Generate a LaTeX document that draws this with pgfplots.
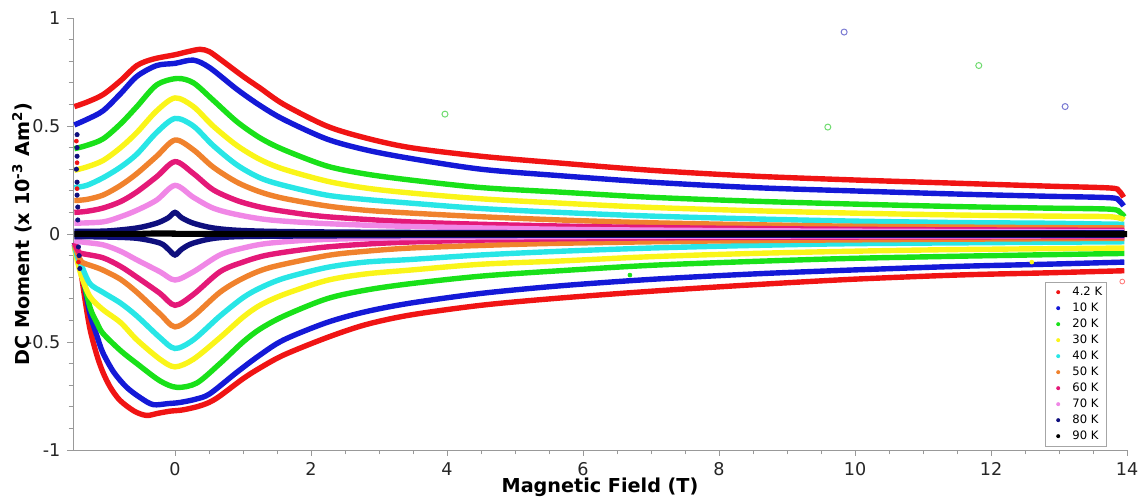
\documentclass[border=0pt]{standalone}
\usepackage{pgfplots}
\pgfplotsset{compat=1.18}
\usepackage{fontspec}
\setmainfont{DejaVu Sans}
\definecolor{cRed}{RGB}{240,20,20}
\definecolor{cBlue}{RGB}{20,25,215}
\definecolor{cGreen}{RGB}{25,225,25}
\definecolor{cYellow}{RGB}{250,245,25}
\definecolor{cCyan}{RGB}{40,230,230}
\definecolor{cOrange}{RGB}{240,130,45}
\definecolor{cMag}{RGB}{228,25,120}
\definecolor{cPink}{RGB}{240,135,230}
\definecolor{cNavy}{RGB}{15,15,125}
\begin{document}
\begin{tikzpicture}
\begin{axis}[
  scale only axis, width=527pt, height=216pt,
  xmin=-1.5, xmax=14, ymin=-1, ymax=1,
  axis lines=left, axis line style={gray!80,-},
  tick align=outside, tick style={gray!80, line width=0.5pt},
  major tick length=2.8pt, minor tick length=2.2pt,
  xtick={0,2,4,6,8,10,12,14}, xticklabels={0,2,4,6,8,10,12,14},
  ytick={-1,-0.5,0,0.5,1}, yticklabels={-1,-0.5,0,0.5,1},
  minor x tick num=3, minor y tick num=4,
  tick label style={font=\fontsize{8.8}{10}\selectfont, text=black!85},
  xlabel={\bfseries Magnetic Field (T)},
  ylabel={\bfseries DC Moment (x 10\textsuperscript{-3} Am\textsuperscript{2})},
  label style={font=\fontsize{9.6}{11}\selectfont},
  xlabel style={at={(axis description cs:0.5,-0.0856)}, anchor=center},
  ylabel style={at={(axis description cs:-0.0484,0.5)}, anchor=center},
  clip=false,
  every axis plot/.append style={line width=2.7pt, smooth},
  legend style={at={(0.922,0.389)}, anchor=north west, draw=gray!70, fill=white,
    font=\fontsize{5.8}{6.5}\selectfont, inner sep=1.5pt, row sep=1.2pt,
    nodes={inner sep=0.6pt, text height=4.4pt, text depth=1.2pt}},
  legend cell align=left,
  legend image code/.code={\path[draw=none, fill=none] (0pt,0pt) -- (11.5pt,0pt); \path[#1, draw=none, fill, line width=0pt] (5pt,0pt) circle (1pt);},
]
% ---- 4.2 K
\addplot[cRed] coordinates {(-1.48,0.59) (-1.3,0.61) (-1.06,0.645) (-0.8,0.71) (-0.56,0.78) (-0.32,0.81) (0,0.83) (0.2,0.845) (0.37,0.855) (0.5,0.845) (0.66,0.81) (1.0,0.73) (1.25,0.676) (1.6,0.6) (2.23,0.50) (2.8,0.445) (3.46,0.40) (4.5,0.36) (5.6,0.33) (7,0.295) (8.5,0.268) (10,0.25) (11.5,0.235) (12.8,0.222) (13.75,0.213) (13.88,0.20) (13.95,0.17)};
\addlegendentry{4.2 K}
\addplot[cRed, forget plot] coordinates {(-1.48,-0.04) (-1.44,-0.09) (-1.40,-0.14) (-1.33,-0.29) (-1.25,-0.44) (-1.15,-0.56) (-1.06,-0.64) (-0.95,-0.71) (-0.81,-0.77) (-0.6,-0.82) (-0.42,-0.84) (-0.25,-0.83) (-0.07,-0.82) (0.1,-0.815) (0.32,-0.80) (0.5,-0.78) (0.66,-0.75) (1.0,-0.67) (1.25,-0.62) (1.6,-0.56) (2.23,-0.48) (2.8,-0.42) (3.46,-0.375) (4.5,-0.33) (5.6,-0.298) (7,-0.265) (8.5,-0.235) (9.93,-0.21) (11.5,-0.19) (12.8,-0.18) (13.96,-0.17)};
% ---- 10 K
\addplot[cBlue] coordinates {(-1.48,0.505) (-1.3,0.53) (-1.06,0.57) (-0.8,0.65) (-0.56,0.73) (-0.27,0.78) (0,0.79) (0.27,0.805) (0.51,0.77) (0.91,0.67) (1.25,0.595) (1.6,0.53) (2.23,0.44) (2.8,0.39) (3.46,0.35) (4.5,0.30) (5.66,0.27) (7,0.24) (8.5,0.215) (9.93,0.20) (11.5,0.185) (12.8,0.175) (13.75,0.168) (13.88,0.155) (13.95,0.13)};
\addlegendentry{10 K}
\addplot[cBlue, forget plot] coordinates {(-1.48,-0.04) (-1.44,-0.08) (-1.40,-0.12) (-1.33,-0.24) (-1.25,-0.37) (-1.15,-0.47) (-1.06,-0.55) (-0.9,-0.64) (-0.71,-0.71) (-0.5,-0.76) (-0.32,-0.79) (-0.1,-0.785) (0.07,-0.78) (0.3,-0.765) (0.51,-0.74) (0.91,-0.64) (1.25,-0.56) (1.6,-0.49) (2.23,-0.41) (2.8,-0.36) (3.46,-0.32) (4.5,-0.275) (5.66,-0.24) (7,-0.21) (8.5,-0.185) (9.93,-0.167) (11.5,-0.15) (12.8,-0.14) (13.96,-0.13)};
% ---- 20 K
\addplot[cGreen] coordinates {(-1.48,0.395) (-1.3,0.41) (-1.06,0.44) (-0.8,0.51) (-0.56,0.59) (-0.27,0.69) (0.03,0.72) (0.27,0.70) (0.56,0.62) (0.91,0.52) (1.25,0.445) (1.6,0.39) (2.23,0.315) (2.8,0.278) (3.46,0.25) (4.5,0.215) (5.66,0.194) (7,0.17) (8.5,0.152) (9.93,0.139) (11.5,0.127) (12.8,0.12) (13.75,0.115) (13.9,0.10) (13.96,0.08)};
\addlegendentry{20 K}
\addplot[cGreen, forget plot] coordinates {(-1.48,-0.05) (-1.44,-0.10) (-1.37,-0.18) (-1.25,-0.34) (-1.15,-0.41) (-1.06,-0.46) (-0.8,-0.54) (-0.56,-0.60) (-0.22,-0.68) (0.03,-0.71) (0.32,-0.69) (0.66,-0.60) (1.0,-0.50) (1.25,-0.44) (1.6,-0.38) (2.23,-0.30) (2.8,-0.26) (3.46,-0.23) (4.5,-0.195) (5.66,-0.17) (7,-0.145) (8.5,-0.127) (9.93,-0.113) (11.5,-0.103) (12.8,-0.096) (13.96,-0.09)};
% ---- 30 K
\addplot[cYellow] coordinates {(-1.48,0.295) (-1.3,0.31) (-1.06,0.34) (-0.8,0.40) (-0.56,0.47) (-0.27,0.57) (0,0.63) (0.27,0.59) (0.56,0.50) (0.91,0.41) (1.25,0.345) (1.6,0.30) (2.23,0.245) (2.8,0.213) (3.46,0.19) (4.5,0.163) (5.66,0.143) (7,0.123) (8.5,0.108) (9.93,0.097) (11.5,0.088) (12.8,0.083) (13.75,0.08) (13.96,0.065)};
\addlegendentry{30 K}
\addplot[cYellow, forget plot] coordinates {(-1.48,-0.06) (-1.44,-0.12) (-1.37,-0.20) (-1.25,-0.29) (-1.06,-0.35) (-0.8,-0.41) (-0.56,-0.49) (-0.22,-0.58) (0,-0.615) (0.27,-0.58) (0.66,-0.48) (1.0,-0.385) (1.25,-0.33) (1.6,-0.28) (2.23,-0.215) (2.8,-0.185) (3.46,-0.167) (4.5,-0.14) (5.66,-0.125) (7,-0.105) (8.5,-0.09) (9.93,-0.08) (11.5,-0.072) (13.96,-0.065)};
% ---- 40 K
\addplot[cCyan] coordinates {(-1.48,0.215) (-1.3,0.225) (-1.06,0.26) (-0.8,0.31) (-0.56,0.37) (-0.27,0.47) (0,0.535) (0.27,0.50) (0.56,0.41) (0.91,0.32) (1.25,0.26) (1.6,0.225) (2.23,0.18) (2.8,0.16) (3.46,0.143) (4.5,0.118) (5.66,0.10) (7,0.083) (8.5,0.07) (9.93,0.06) (11.5,0.053) (12.8,0.05) (13.96,0.045)};
\addlegendentry{40 K}
\addplot[cCyan, forget plot] coordinates {(-1.48,-0.05) (-1.44,-0.10) (-1.37,-0.15) (-1.25,-0.23) (-1.06,-0.27) (-0.8,-0.32) (-0.56,-0.38) (-0.22,-0.48) (0,-0.53) (0.27,-0.49) (0.66,-0.38) (1.0,-0.295) (1.25,-0.25) (1.6,-0.205) (2.23,-0.155) (2.8,-0.13) (3.46,-0.118) (4.5,-0.097) (5.66,-0.08) (7,-0.065) (8.5,-0.053) (9.93,-0.045) (12,-0.04) (13.96,-0.036)};
% ---- 50 K
\addplot[cOrange] coordinates {(-1.48,0.155) (-1.3,0.16) (-1.06,0.18) (-0.8,0.225) (-0.56,0.28) (-0.27,0.36) (0,0.435) (0.27,0.39) (0.56,0.31) (0.91,0.24) (1.25,0.195) (1.6,0.165) (2.23,0.13) (2.8,0.11) (3.46,0.097) (4.5,0.08) (5.66,0.065) (7,0.052) (8.5,0.043) (10,0.036) (12,0.031) (13.96,0.028)};
\addlegendentry{50 K}
\addplot[cOrange, forget plot] coordinates {(-1.48,-0.05) (-1.42,-0.10) (-1.37,-0.13) (-1.2,-0.15) (-1.06,-0.167) (-0.8,-0.21) (-0.56,-0.27) (-0.22,-0.37) (0,-0.43) (0.27,-0.38) (0.66,-0.27) (1.0,-0.205) (1.4,-0.155) (2.23,-0.10) (2.8,-0.08) (3.46,-0.065) (4.5,-0.053) (5.66,-0.043) (8,-0.032) (11,-0.025) (13.96,-0.02)};
% ---- 60 K
\addplot[cMag] coordinates {(-1.48,0.10) (-1.3,0.105) (-1.06,0.12) (-0.8,0.15) (-0.56,0.195) (-0.27,0.265) (0,0.335) (0.27,0.28) (0.56,0.205) (0.91,0.155) (1.25,0.125) (1.6,0.105) (2.23,0.08) (3.46,0.056) (4.5,0.045) (5.66,0.037) (7,0.03) (9,0.024) (11,0.02) (13.96,0.017)};
\addlegendentry{60 K}
\addplot[cMag, forget plot] coordinates {(-1.48,-0.04) (-1.42,-0.08) (-1.37,-0.09) (-1.06,-0.11) (-0.8,-0.15) (-0.56,-0.20) (-0.22,-0.275) (0,-0.33) (0.27,-0.28) (0.66,-0.175) (1.0,-0.13) (1.4,-0.095) (2.23,-0.06) (3.46,-0.037) (5.66,-0.022) (9,-0.015) (13.96,-0.012)};
% ---- 70 K
\addplot[cPink] coordinates {(-1.48,0.05) (-1.06,0.056) (-0.8,0.08) (-0.56,0.11) (-0.27,0.157) (0,0.225) (0.27,0.17) (0.56,0.12) (0.91,0.09) (1.4,0.065) (2.23,0.048) (3.46,0.035) (5.66,0.022) (8,0.016) (11,0.012) (13.96,0.01)};
\addlegendentry{70 K}
\addplot[cPink, forget plot] coordinates {(-1.48,-0.03) (-1.37,-0.037) (-1.06,-0.05) (-0.8,-0.08) (-0.56,-0.12) (-0.22,-0.175) (0,-0.213) (0.27,-0.175) (0.66,-0.097) (1.0,-0.065) (1.4,-0.042) (2.23,-0.025) (4,-0.015) (8,-0.01) (13.96,-0.008)};
% ---- 80 K
\addplot[cNavy] coordinates {(-1.48,0.012) (-1,0.014) (-0.56,0.028) (-0.27,0.05) (-0.1,0.075) (0,0.10) (0.1,0.075) (0.27,0.05) (0.56,0.028) (1,0.016) (2,0.01) (5,0.006) (13.96,0.005)};
\addlegendentry{80 K}
\addplot[cNavy, forget plot] coordinates {(-1.48,-0.012) (-1,-0.014) (-0.56,-0.02) (-0.22,-0.042) (-0.1,-0.07) (0,-0.097) (0.1,-0.07) (0.27,-0.042) (0.66,-0.017) (1.5,-0.01) (5,-0.006) (13.96,-0.005)};
% ---- 90 K
\addplot[black, line width=3pt] coordinates {(-1.48,0) (-0.5,0.001) (0,0.003) (0.5,0.001) (14,0)};
\addlegendentry{90 K}
% ---- sparse points near the field edges
\addplot[only marks, mark=*, mark size=1.1pt, cNavy, line width=0.3pt, forget plot] coordinates {(-1.44,0.46) (-1.44,0.40) (-1.44,0.36) (-1.45,0.30) (-1.44,0.24) (-1.44,0.18) (-1.43,0.125) (-1.43,0.065) (-1.42,-0.06) (-1.41,-0.10) (-1.40,-0.16)};
\addplot[only marks, mark=*, mark size=1pt, cRed, line width=0.3pt, forget plot] coordinates {(-1.45,0.43) (-1.44,0.33) (-1.44,0.21) (-1.42,-0.13)};
% ---- stray points
\addplot[only marks, mark=o, mark size=1.5pt, line width=0.5pt, green!60!gray!70, forget plot] coordinates {(3.97,0.555) (9.6,0.495) (11.82,0.78)};
\addplot[only marks, mark=o, mark size=1.5pt, line width=0.5pt, blue!50!gray!70, forget plot] coordinates {(9.84,0.935) (13.09,0.59)};
\addplot[only marks, mark=o, mark size=1.2pt, line width=0.4pt, red!40!pink, forget plot] coordinates {(13.93,-0.22)};
\addplot[only marks, mark=*, mark size=1pt, line width=0.3pt, cGreen, forget plot] coordinates {(6.69,-0.19)};
\addplot[only marks, mark=*, mark size=1pt, line width=0.3pt, cYellow, forget plot] coordinates {(12.6,-0.13)};
\end{axis}
\pgfresetboundingbox
\path[use as bounding box] (-36.5pt,-24.5pt) rectangle (532.5pt,225pt);
\end{tikzpicture}
\end{document}
